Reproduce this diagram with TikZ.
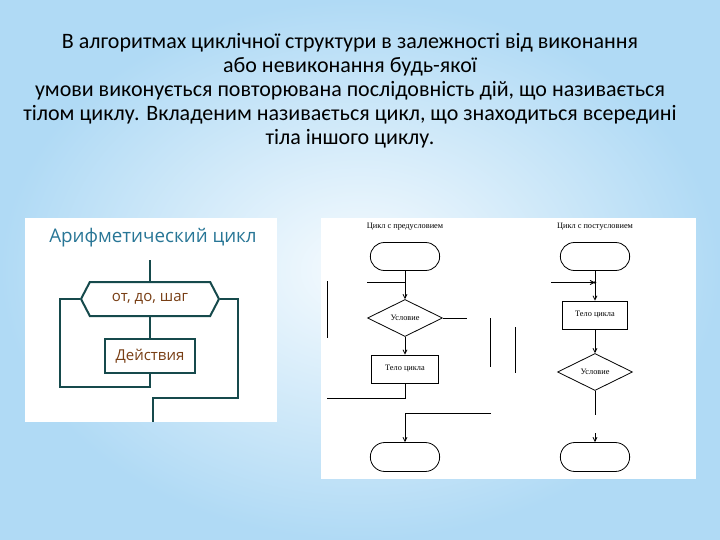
\documentclass[tikz,border=0pt]{standalone}
\usepackage{fontspec}
\setmainfont{Carlito}
\newfontfamily\panelfont{Open Sans}
\newfontfamily\chartfont{Liberation Serif}
\usetikzlibrary{shapes.geometric}
\usetikzlibrary{shapes.misc}
\usetikzlibrary{shapes.symbols}
\usetikzlibrary{arrows.meta}
\usetikzlibrary{positioning}

\definecolor{bgblue}{RGB}{176,218,245}
\definecolor{bgpale}{RGB}{246,251,254}
\definecolor{arline}{RGB}{22,74,76}
\definecolor{artitle}{RGB}{40,118,150}
\definecolor{artext}{RGB}{120,62,20}

\begin{document}
\begin{tikzpicture}[x=1pt,y=-1pt,
  hdr/.style={align=center,font=\fontsize{22}{24}\selectfont,text=black},
  arflow/.style={draw=arline,line width=2pt},
  arbox/.style={arflow,fill=white,inner sep=0pt,font=\panelfont\fontsize{15}{15}\selectfont,text=artext},
  term/.style={draw,rounded rectangle,minimum width=76pt,minimum height=28pt,line width=0.8pt},
  cond/.style={draw,diamond,minimum width=75pt,minimum height=37pt,inner sep=0pt,line width=0.8pt},
  body/.style={draw,rectangle,minimum height=28pt,inner sep=0pt,line width=0.8pt},
  chartlbl/.style={font=\chartfont\fontsize{8.3}{9}\selectfont},
  flow/.style={line width=0.8pt},
  arr/.style={flow,-{Straight Barb[length=4pt,width=4pt]}}]

% background
\shade[inner color=bgpale,outer color=bgblue] (0,0) rectangle (720,540);
\useasboundingbox (0,0) rectangle (720,540);

\node[hdr] (intro) at (350,91) {В алгоритмах циклічної структури в залежності від виконання\\
  або невиконання будь-якої\\
  умови виконується повторювана послідовність дій, що називається\\
  тілом циклу. Вкладеним називається цикл, що знаходиться всередині\\
  тіла іншого циклу.};

% arithmetic loop
\fill[white] (25,218) rectangle (277,422);
\node[font=\panelfont\fontsize{18.8}{19}\selectfont,text=artitle] (arTitle) at (153,238) {Арифметический цикл};
\coordinate (arIn) at (150,260);
\node[arbox,signal,signal to=east and west,signal pointer angle=125,
  minimum width=138pt,minimum height=34pt] (range) at (150,299) {от, до, шаг};
\node[arbox,minimum width=90pt,minimum height=34pt] (act) at (150,356) {Действия};
\coordinate (loopL) at (60,387);
\coordinate (loopR) at (238,398);
\coordinate (arOut) at (153,422);
\draw[arflow] (arIn) -- (range.north);
\draw[arflow] (range.south) -- (act.north);
\draw[arflow] (act.south) |- (loopL) |- (range.west);
\draw[arflow] (range.east) -| (loopR) -| (arOut);

% pre- and post-condition loops
\fill[white] (321,218) rectangle (696,479);
\node[chartlbl] (preTitle) at (405,227) {Цикл с предусловием};
\node[term] (startA) at (405,256.5) {};
\coordinate (inA) at (367,282);
\coordinate (joinA) at (405,282);
\node[cond,chartlbl] (condA) at (405,318) {Условие};
\node[body,chartlbl,minimum width=67pt] (bodyA) at (405,369) {Тело цикла};
\node[term,minimum height=29pt] (endA) at (405,457) {};
\coordinate (outA) at (467,318);
\coordinate (backA) at (327,398);
\coordinate (exitA) at (491,413);
\draw[flow] (startA) -- (joinA);
\draw[flow] (inA) -- (joinA);
\draw[arr] (joinA) -- (condA);
\draw[flow] (condA.east) -- (outA);
\draw[arr] (condA) -- (bodyA);
\draw[flow] (bodyA) |- (backA);
\draw[arr] (exitA) -| (endA);

\coordinate (sideA1) at (327,281);
\coordinate (sideA2) at (327,338);
\coordinate (sideB1) at (490,318);
\coordinate (sideB2) at (490,367);
\coordinate (sideC1) at (515,327);
\coordinate (sideC2) at (515,373);
\draw[flow] (sideA1) -- (sideA2);
\draw[flow] (sideB1) -- (sideB2);
\draw[flow] (sideC1) -- (sideC2);

\node[chartlbl] (postTitle) at (595,227) {Цикл с постусловием};
\node[term] (startB) at (595,256.5) {};
\coordinate (inB) at (551,282.5);
\coordinate (joinB) at (595,282.5);
\node[body,chartlbl,minimum width=65pt] (bodyB) at (595,315) {Тело цикла};
\node[cond,chartlbl] (condB) at (595,372) {Условие};
\coordinate (tailB) at (595,415);
\coordinate (stubB) at (595,433);
\node[term,minimum height=29pt] (endB) at (595,457) {};
\draw[flow] (startB) -- (joinB);
\draw[arr] (inB) -- (joinB);
\fill (joinB) circle (1.3);
\draw[arr] (joinB) -- (bodyB);
\draw[arr] (bodyB) -- (condB);
\draw[flow] (condB) -- (tailB);
\draw[arr] (stubB) -- (endB);
\end{tikzpicture}
\end{document}
